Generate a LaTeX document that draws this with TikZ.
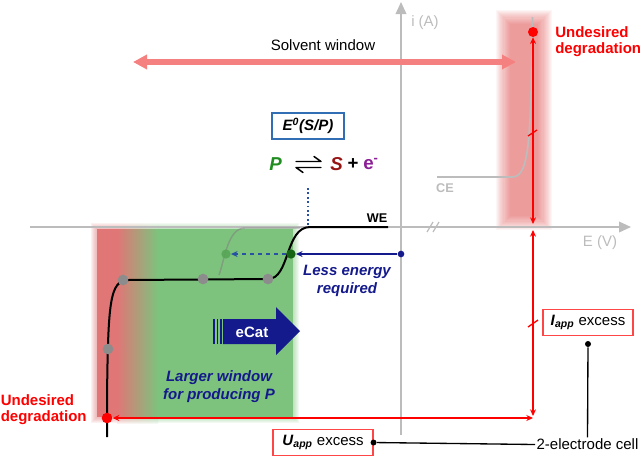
\documentclass[tikz,border=0pt]{standalone}
\usepackage{fontspec}
\setmainfont{Liberation Sans}
\usepackage{graphicx}
\usetikzlibrary{arrows.meta}
\definecolor{axisgray}{RGB}{188,188,188}
\definecolor{swred}{RGB}{245,128,128}
\definecolor{navyc}{RGB}{20,25,140}
\definecolor{regred}{RGB}{224,118,118}
\definecolor{reggreen}{RGB}{125,195,125}
\definecolor{bandred}{RGB}{215,40,40}
\definecolor{dotgray}{RGB}{140,140,140}
\definecolor{dkgreen}{RGB}{20,100,20}
\definecolor{ltgreen}{RGB}{85,165,85}
\definecolor{pgreen}{RGB}{30,140,30}
\definecolor{sred}{RGB}{150,20,20}
\definecolor{epurple}{RGB}{140,30,150}
\definecolor{boxblue}{RGB}{50,110,180}
\definecolor{boxred}{RGB}{255,70,70}
\definecolor{dashblue}{RGB}{40,80,165}
\definecolor{pureRed}{RGB}{255,0,0}
\newcommand{\greenlayer}[2]{%
  \fill[regred, fill opacity=#2] (97-#1,229-#1) rectangle (117,417+#1);
  \shade[left color=regred, right color=reggreen, fill opacity=#2] (117,229-#1) rectangle (158,417+#1);
  \fill[reggreen, fill opacity=#2] (158,229-#1) rectangle (293+#1,417+#1);
}
\tikzset{
  txt/.style={font=\fontsize{11.25}{13.5}\selectfont, inner sep=1pt},
  axisline/.style={axisgray, line width=1.1pt},
  axistip/.style={-{Triangle[length=9pt,width=8pt]}},
  swarrow/.style={swred, line width=3.8pt, {Triangle[length=10.5pt,width=10.5pt]}-{Triangle[length=10.5pt,width=10.5pt]}},
  redarr/.style={pureRed, line width=1.1pt, {Stealth[length=5pt,width=4.5pt]}-{Stealth[length=5pt,width=4.5pt]}},
  dotstyle/.style={circle, inner sep=0pt, minimum size=#1},
  reddot/.style={dotstyle=8pt, fill=pureRed},
  graydot/.style={dotstyle=8pt, fill=dotgray},
  redbox/.style={draw=boxred, line width=0.8pt, minimum width=75pt, minimum height=20pt, inner sep=2pt, txt},
  wecurve/.style={black, line width=1.5pt},
  cecurve/.style={axisgray, line width=1.2pt},
  labelred/.style={txt, text=pureRed, font=\fontsize{11.25}{12}\selectfont\bfseries, align=left},
  navytext/.style={txt, text=navyc, font=\fontsize{11.25}{13.5}\selectfont\bfseries\itshape, align=center},
  blackline/.style={black, line width=1pt},
  smalltip/.style={-{Stealth[length=5pt,width=4.5pt]}},
  harpoon/.style={black, line width=1.1pt, line cap=round, line join=round}
}
\begin{document}
\begin{tikzpicture}[x=0.75pt,y=-0.75pt]
\useasboundingbox (0,0) rectangle (641,457);
% green / red region with soft edges
\foreach \d in {1,...,6} {\greenlayer{\d}{0.1}}
\greenlayer{0}{1}
% red band
\foreach \d in {0,...,13} {
  \fill[bandred, fill opacity=0.045] (510-\d*1.1,24-\d*1.1) rectangle (538+\d*1.1,216+\d*1.1);
}
% axes
\coordinate (xaxL) at (30,227);
\coordinate (xaxR) at (631,227);
\coordinate (yaxB) at (401,435);
\coordinate (yaxT) at (401,2);
\draw[axisline, axistip] (xaxL) -- (xaxR);
\draw[axisline, axistip] (yaxB) -- (yaxT);
\draw[axisline, line width=0.9pt] (427,232) -- (433,222) (433,232) -- (439,222);
\node[txt, text=axisgray] (ilab) at (425,23) {i (A)};
\node[txt, text=axisgray] (elab) at (600,243) {E (V)};
% solvent window
\node[txt] (swlab) at (323,45) {Solvent window};
\coordinate (swL) at (133,62);
\coordinate (swR) at (516,62);
\draw[swarrow] (swL) -- (swR);
% CE curve
\draw[cecurve] (437,177) -- (512,177) .. controls (527,177) and (530,150) .. (531.5,70) -- (532.5,17);
\node[txt, text=axisgray, font=\fontsize{9.5}{11}\selectfont\bfseries] (celab) at (445,188) {CE};
% shifted faint curve
\draw[gray, opacity=0.55, line width=1.1pt] (219,275) .. controls (225,258) and (228,228) .. (245,228) -- (300,228);
% WE curve
\draw[wecurve] (107,437) -- (107,400) .. controls (108,300) and (110,281) .. (128,280) -- (268,279) .. controls (290,279) and (285,227) .. (310,227) -- (388,227);
\node[txt, font=\fontsize{9.5}{11}\selectfont\bfseries] (welab) at (377,218) {WE};
% dots on WE
\node[graydot] (g1) at (123,280) {};
\node[graydot] (g2) at (203,279) {};
\node[graydot] (g3) at (268,279) {};
\node[graydot] (g4) at (108,349) {};
\node[dotstyle=7pt, fill=ltgreen, opacity=0.85] (lgdot) at (226,254) {};
\node[dotstyle=7pt, fill=dkgreen] (gdot) at (291,254) {};
\node[dotstyle=5pt, fill=navyc] (nvdot) at (401,254) {};
\draw[navyc, line width=1.1pt, smalltip] (nvdot) -- (gdot);
\draw[dashblue, line width=1.1pt, dashed, smalltip] (gdot) -- (lgdot);
\node[navytext] (lesslab) at (347,281) {Less energy\\required};
% E0 box and equation
\node[draw=boxblue, line width=0.8pt, minimum width=54pt, minimum height=19.5pt, inner sep=1pt, font=\fontsize{11.25}{13.5}\selectfont\bfseries\itshape] (e0box) at (308,126) {E\textsuperscript{0}(S/P)};
\node[font=\fontsize{14}{16}\selectfont\bfseries\itshape, text=pgreen, inner sep=0pt] (eqP) at (275.5,164) {P};
\draw[harpoon] (296,161.5) -- (321,161.5) -- (314,156.5);
\draw[harpoon] (321,167.5) -- (296,167.5) -- (303,172.5);
\node[font=\fontsize{14}{16}\selectfont\bfseries\itshape, text=sred, inner sep=0pt] (eqS) at (336.5,164) {S};
\node[font=\fontsize{14}{16}\selectfont\bfseries, inner sep=0pt] (eqPlus) at (353,164) {+};
\node[font=\fontsize{14}{16}\selectfont\bfseries, text=epurple, inner sep=0pt] (eqE) at (371,164) {e\textsuperscript{-}};
\coordinate (dtop) at (308,188);
\coordinate (dbot) at (308,226);
\draw[dashblue, line width=1.3pt, dotted] (dtop) -- (dbot);
% eCat arrow
\fill[navyc] (223,319) -- (276,319) -- (276,307) -- (300,331) -- (276,355) -- (276,344) -- (223,344) -- cycle;
\draw[navyc, line width=1.3pt] (214,319) -- (214,344) (217.5,319) -- (217.5,344) (221,319) -- (221,344);
\node[txt, text=white, font=\fontsize{11.25}{13.5}\selectfont\bfseries] (ecat) at (252,332) {eCat};
\node[navytext] (larglab) at (219,387) {Larger window\\for producing P};
% red elements
\node[reddot, minimum size=7.5pt] (rdtop) at (533,32) {};
\node[reddot] (rdleft) at (107,418) {};
\coordinate (cr1) at (533,224);
\coordinate (cr2) at (533,230);
\coordinate (cr3) at (533,416);
\coordinate (cr4) at (533,418);
\draw[redarr] (rdtop) -- (cr1);
\draw[redarr] (cr2) -- (cr3);
\draw[redarr] (rdleft) -- (cr4);
\draw[pureRed, line width=1pt] (528,136) -- (537,130);
\draw[pureRed, line width=1pt] (528,327) -- (538,320);
\node[labelred, anchor=west, inner sep=0pt] (udr) at (555,42) {Undesired\\degradation};
\node[labelred, anchor=west, inner sep=0pt] (udl) at (0.5,410) {Undesired\\degradation};
% boxes and 2-electrode cell
\node[redbox] (ubox) at (323,442.5) {\textbf{\textit{U}}\textsubscript{\textbf{\textit{app}}} excess};
\node[redbox, minimum width=67.5pt] (ibox) at (588,322.5) {\textbf{\textit{I}}\textsubscript{\textbf{\textit{app}}} excess};
\node[txt] (cell) at (587.5,444.5) {2-electrode cell};
\node[dotstyle=4.5pt, fill=black] (udot) at (ubox.east) {};
\node[dotstyle=4.5pt, fill=black] (idot) at (588,344) {};
\draw[blackline] (udot) -- (cell.west);
\draw[blackline] (idot) -- (cell.north);
\end{tikzpicture}
\end{document}
